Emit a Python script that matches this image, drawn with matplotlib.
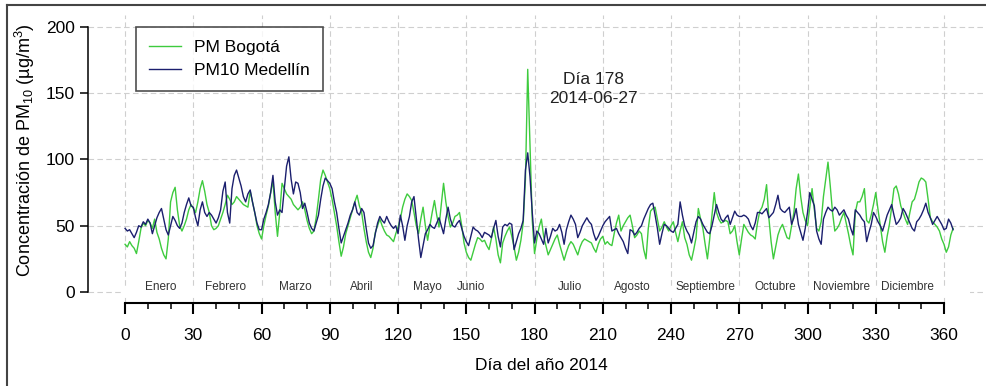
import matplotlib
matplotlib.use("Agg")
import matplotlib.pyplot as plt
from matplotlib.lines import Line2D
from matplotlib.patches import Rectangle
import numpy as np

plt.rcParams['font.family'] = ['Liberation Sans', 'DejaVu Sans']
plt.rcParams['mathtext.fontset'] = 'custom'
plt.rcParams['mathtext.rm'] = 'Liberation Sans'
plt.rcParams['mathtext.it'] = 'Liberation Sans:italic'

medellin = [
    48, 46, 47, 44, 41, 45, 50, 49, 53, 51,
    55, 52, 44, 50, 56, 60, 63, 55, 47, 43,
    50, 57, 54, 50, 48, 52, 60, 66, 71, 65,
    64, 56, 50, 62, 68, 60, 57, 60, 58, 55,
    52, 56, 62, 76, 83, 60, 52, 78, 88, 92,
    86, 80, 72, 68, 74, 77, 68, 60, 52, 47,
    47, 55, 60, 66, 75, 88, 68, 58, 62, 60,
    78, 95, 102, 85, 74, 83, 82, 75, 63, 67,
    60, 52, 48, 46, 52, 58, 70, 80, 86, 84,
    82, 78, 68, 60, 48, 37, 42, 47, 52, 58,
    62, 68, 60, 58, 63, 60, 48, 37, 33, 35,
    44, 52, 57, 54, 52, 57, 53, 50, 48, 50,
    44, 58, 50, 39, 50, 57, 68, 72, 56, 40,
    26, 35, 44, 47, 51, 49, 48, 52, 56, 50,
    44, 55, 64, 55, 50, 49, 52, 54, 48, 42,
    38, 35, 42, 49, 47, 46, 44, 41, 45, 44,
    43, 41, 48, 54, 42, 34, 49, 51, 50, 52,
    51, 32, 38, 44, 48, 54, 92, 105, 87, 60,
    37, 46, 44, 40, 36, 48, 37, 42, 48, 46,
    47, 51, 45, 36, 47, 53, 58, 55, 51, 41,
    45, 50, 53, 56, 53, 51, 44, 39, 42, 46,
    50, 53, 55, 57, 46, 47, 48, 44, 41, 38,
    33, 29, 47, 46, 43, 45, 48, 50, 55, 59,
    63, 66, 67, 58, 48, 36, 44, 51, 50, 48,
    46, 45, 48, 51, 68, 58, 50, 46, 43, 37,
    45, 53, 57, 55, 51, 48, 45, 44, 50, 58,
    66, 60, 55, 53, 56, 58, 51, 56, 61, 58,
    57, 57, 58, 57, 55, 50, 47, 52, 60, 60,
    59, 61, 63, 56, 58, 60, 66, 73, 63, 61,
    60, 62, 64, 51, 56, 63, 51, 45, 39, 48,
    60, 75, 70, 65, 46, 40, 36, 55, 60, 64,
    62, 61, 64, 62, 58, 60, 62, 58, 55, 48,
    43, 62, 60, 58, 55, 53, 38, 45, 51, 60,
    57, 53, 50, 46, 52, 58, 62, 66, 58, 51,
    53, 56, 63, 60, 56, 52, 48, 46, 53, 55,
    58, 62, 67, 60, 56, 51, 54, 57, 54, 51,
    47, 48, 55, 52, 47,
]

bogota = [
    36, 34, 38, 35, 33, 29, 38, 48, 52, 50,
    54, 52, 48, 55, 45, 40, 33, 28, 25, 40,
    68, 75, 79, 62, 50, 46, 50, 55, 62, 66,
    63, 60, 68, 78, 84, 76, 66, 60, 50, 47,
    48, 50, 55, 60, 66, 73, 70, 66, 68, 72,
    70, 68, 66, 65, 64, 76, 68, 60, 50, 44,
    40, 50, 58, 65, 75, 84, 60, 42, 60, 82,
    78, 74, 72, 70, 66, 64, 62, 64, 68, 62,
    54, 48, 44, 46, 56, 70, 85, 92, 88, 83,
    78, 70, 60, 50, 38, 27, 34, 44, 50, 56,
    62, 68, 73, 65, 60, 48, 38, 30, 26, 33,
    45, 50, 55, 50, 46, 43, 42, 40, 38, 44,
    49, 55, 64, 70, 74, 72, 69, 60, 50, 44,
    55, 64, 50, 39, 50, 60, 69, 58, 49, 66,
    82, 68, 57, 49, 52, 57, 58, 60, 50, 37,
    30, 26, 24, 30, 36, 41, 40, 38, 39, 35,
    32, 40, 49, 40, 28, 22, 37, 42, 46, 49,
    42, 34, 24, 30, 39, 52, 85, 168, 112, 54,
    29, 40, 49, 55, 42, 35, 28, 32, 36, 40,
    43, 36, 30, 24, 30, 35, 38, 36, 32, 28,
    34, 38, 40, 39, 38, 37, 33, 30, 36, 40,
    42, 36, 38, 36, 35, 44, 52, 58, 46, 50,
    53, 56, 58, 50, 41, 43, 46, 44, 32, 25,
    48, 61, 63, 64, 55, 46, 49, 53, 49, 46,
    50, 53, 45, 38, 46, 53, 41, 36, 28, 24,
    32, 41, 63, 55, 48, 36, 25, 40, 58, 75,
    60, 55, 52, 53, 54, 53, 44, 46, 50, 38,
    28, 40, 51, 48, 45, 43, 42, 40, 52, 61,
    64, 70, 81, 56, 38, 25, 34, 43, 48, 51,
    46, 41, 40, 50, 60, 78, 89, 72, 60, 54,
    50, 64, 78, 62, 48, 46, 53, 72, 85, 98,
    80, 60, 46, 48, 51, 56, 60, 52, 44, 35,
    28, 60, 68, 68, 72, 78, 54, 52, 58, 66,
    75, 62, 50, 38, 30, 42, 51, 64, 78, 80,
    74, 65, 60, 55, 51, 60, 68, 70, 76, 83,
    86, 85, 83, 70, 56, 53, 51, 49, 46, 40,
    36, 30, 34, 43, 48,
]

days = list(range(len(medellin)))

month_names = ["Enero", "Febrero", "Marzo", "Abril", "Mayo", "Junio", "Julio",
               "Agosto", "Septiembre", "Octubre", "Noviembre", "Diciembre"]
month_pos = [15.5, 44, 75, 104, 133, 152, 195.6, 223, 255, 286, 315, 344]

x_ticks = list(range(0, 361, 30))
x_minor = [d for d in range(0, 361, 10) if d % 30 != 0]
y_ticks = [0, 50, 100, 150, 200]

fig = plt.figure(figsize=(9.87, 3.86), dpi=100)
ax = fig.add_axes([88/987, 1-303/386, 1-88/987, (303-15)/386])
ax.set_xlim(-16.3, 378.9)
ax.set_ylim(-8.3, 209)

green = '#3ecb3e'
navy = '#1b1f6e'
ax.plot(days, bogota, color=green, lw=1.0, label='PM Bogotá', zorder=3)
ax.plot(days, medellin, color=navy, lw=1.0, label='PM10 Medellín', zorder=4)

ax.set_axisbelow(True)
ax.grid(True, which='major', ls=(0, (5, 3)), color='#cfcfcf', lw=0.8)
ax.add_patch(Rectangle((-0.5, -2.5), 372, 5, color='white', zorder=1, lw=0))

ax.set_xticks(x_ticks)
ax.set_yticks(y_ticks)
ax.xaxis.set_minor_locator(plt.FixedLocator(x_minor))
ax.spines['top'].set_visible(False)
ax.spines['right'].set_visible(False)
ax.spines['bottom'].set_bounds(0, 360)
ax.spines['left'].set_bounds(0, 200)
ax.spines['bottom'].set_linewidth(1.5)
ax.spines['left'].set_linewidth(1.1)
ax.tick_params(axis='x', which='major', length=8, width=1.5, pad=10, labelsize=12.5)
ax.tick_params(axis='x', which='minor', length=4.3, width=1.1)
ax.tick_params(axis='y', which='major', length=5.8, width=1.1, pad=3.6, labelsize=12.5)

for name, pos in zip(month_names, month_pos):
    ax.text(pos, 3.8, name, ha='center', va='center', fontsize=8.5, color='#333333', zorder=5)

ax.text(205.7, 153, 'Día 178\n2014-06-27', ha='center', va='center', fontsize=12.5,
        color='#222222', linespacing=1.3, zorder=5)

ax.set_ylabel('Concentración de PM$_{10}$ (µg/m$^{3}$)', fontsize=13)
ax.yaxis.set_label_coords(-0.0567, 0.53)
ax.set_xlabel('Día del año 2014', fontsize=12.5, va='top')
ax.xaxis.set_label_coords(0.504, -0.191)

leg = ax.legend(loc='upper left', bbox_to_anchor=(0.0534, 0.958), borderaxespad=0,
                fontsize=12.5, frameon=True, fancybox=False, edgecolor='#222222',
                handlelength=1.85, handletextpad=0.75, labelspacing=0.45, borderpad=0.75)
leg.get_frame().set_linewidth(1.2)

fig.add_artist(Line2D([7/987, 7/987], [0, 1-5/386], transform=fig.transFigure,
                      color='#444444', lw=1.5))
fig.add_artist(Line2D([7/987, 1], [1-5/386, 1-5/386], transform=fig.transFigure,
                      color='#444444', lw=1.5))

fig.savefig('out.png', dpi=100)
